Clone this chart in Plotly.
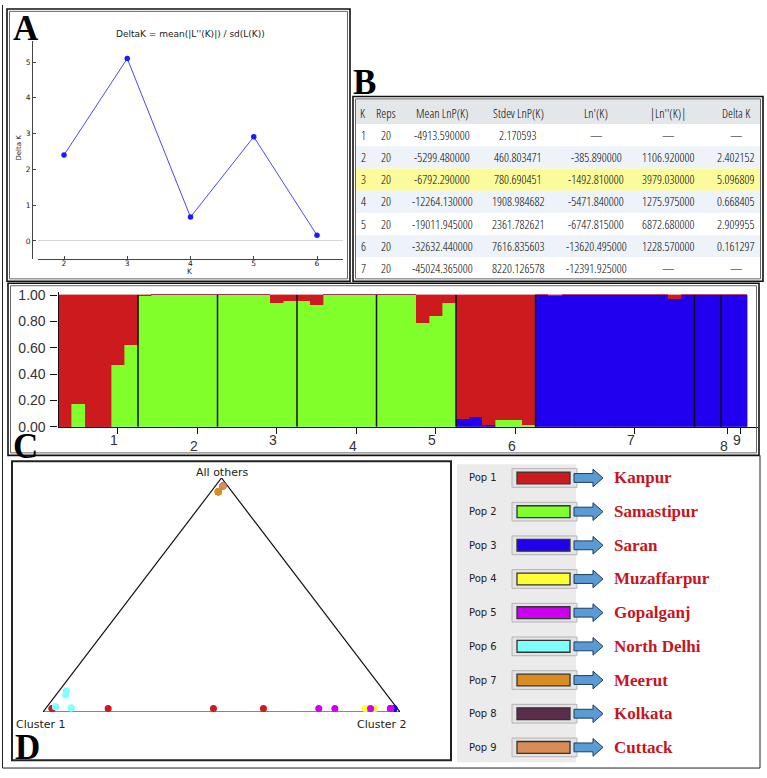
import plotly.graph_objects as go

W, H = 767, 778
def X(px): return px / W
def Y(py): return 1 - py / H

# ---------------- Panel A : Delta K ----------------
k_values = [2, 3, 4, 5, 6]
delta_k = [2.402152, 5.096809, 0.668405, 2.909955, 0.161297]

# ---------------- Panel B : Evanno table ----------------
tbl_headers = ["K", "Reps", "Mean LnP(K)", "Stdev LnP(K)", "Ln'(K)", "|Ln''(K)|", "Delta K"]
tbl_k = ["1", "2", "3", "4", "5", "6", "7"]
tbl_reps = ["20", "20", "20", "20", "20", "20", "20"]
tbl_mean = ["-4913.590000", "-5299.480000", "-6792.290000", "-12264.130000",
            "-19011.945000", "-32632.440000", "-45024.365000"]
tbl_stdev = ["2.170593", "460.803471", "780.690451", "1908.984682",
             "2361.782621", "7616.835603", "8220.126578"]
tbl_ln1 = ["—", "-385.890000", "-1492.810000", "-5471.840000",
           "-6747.815000", "-13620.495000", "-12391.925000"]
tbl_ln2 = ["—", "1106.920000", "3979.030000", "1275.975000",
           "6872.680000", "1228.570000", "—"]
tbl_dk = ["—", "2.402152", "5.096809", "0.668405", "2.909955", "0.161297", "—"]

# ---------------- Panel C : STRUCTURE bar plot (K = 3) ----------------
pop_labels_c = ["1", "2", "3", "4", "5", "6", "7", "8", "9"]
pop_sizes = [6, 6, 6, 6, 6, 6, 12, 2, 2]
pop_tick_pos = [4.45, 10.5, 16.45, 22.5, 28.45, 34.5, 43.5, 50.5, 51.5]
q_green = [0, 0.17, 0, 0, 0.47, 0.62,
           0.99, 1, 1, 1, 1, 1,
           1, 1, 1, 1, 0.94, 0.95,
           0.95, 0.92, 1, 1, 1, 1,
           1, 1, 1, 0.79, 0.84, 0.94,
           0, 0, 0, 0.05, 0.05, 0.01,
           0, 0, 0, 0, 0, 0, 0, 0, 0, 0, 0, 0,
           0, 0,
           0, 0]
q_blue = [0, 0, 0, 0, 0, 0,
          0, 0, 0, 0, 0, 0,
          0, 0, 0, 0, 0, 0,
          0, 0, 0, 0, 0, 0,
          0, 0, 0, 0, 0, 0,
          0.06, 0.075, 0.01, 0, 0, 0,
          1, 0.99, 1, 1, 1, 1, 1, 1, 1, 1, 0.97, 1,
          1, 1,
          1, 1]
q_red = [1, 0.83, 1, 1, 0.53, 0.38,
         0.01, 0, 0, 0, 0, 0,
         0, 0, 0, 0, 0.06, 0.05,
         0.05, 0.08, 0, 0, 0, 0,
         0, 0, 0, 0.21, 0.16, 0.06,
         0.94, 0.925, 0.99, 0.95, 0.95, 0.99,
         0, 0.01, 0, 0, 0, 0, 0, 0, 0, 0, 0.03, 0,
         0, 0,
         0, 0]

# ---------------- Panel D : triangle plot ----------------
tri_pop = [1] * 6 + [6] * 6 + [2] * 6 + [3] * 6 + [4] * 6 + [5] * 6 + [8] * 2 + [7] * 12 + [9] * 2
tri_cluster2 = ([0.018, 0.175, 0.018, 0.018, 0.47, 0.61] +
                [0.0205, 0.027, 0.024, 0.0705, 0.0705, 0.024] +
                [0.972] * 6 +
                [0.975] * 6 +
                [0.895, 0.922, 0.966, 0.966, 0.966, 0.966] +
                [0.966, 0.966, 0.966, 0.765, 0.81, 0.91] +
                [0.021, 0.021] +
                [0.0205] * 12 +
                [0.021, 0.021])
tri_others = ([0.015] * 6 +
              [0.09, 0.073, 0.022, 0.017, 0.017, 0.022] +
              [0.015] * 6 +
              [0.015] * 6 +
              [0.015] * 6 +
              [0.015] * 6 +
              [0.966, 0.966] +
              [0.941] * 12 +
              [0.966, 0.966])

# ---------------- Legend ----------------
pop_names = ["Kanpur", "Samastipur", "Saran", "Muzaffarpur", "Gopalganj",
             "North Delhi", "Meerut", "Kolkata", "Cuttack"]
pop_colors = ["#cc1a1e", "#80ff2a", "#2000ee", "#ffff33", "#cc00ee",
              "#80ffff", "#d98c20", "#5c2d4a", "#d98c55"]
cluster_colors = {"green": "#80ff2a", "blue": "#2000ee", "red": "#cc1a1e"}

fig = go.Figure()

fig.add_trace(go.Scatter(x=k_values, y=delta_k, mode="lines+markers",
                         line=dict(color="#4848ff", width=1),
                         marker=dict(color="#1a1aff", size=5.5),
                         xaxis="x", yaxis="y", showlegend=False, cliponaxis=False))

xs = [i + 0.5 for i in range(len(q_green))]
for vals, col in [(q_green, cluster_colors["green"]), (q_blue, cluster_colors["blue"]),
                  (q_red, cluster_colors["red"])]:
    fig.add_trace(go.Bar(x=xs, y=vals, width=1,
                         marker=dict(color=col, line=dict(color=col, width=0.4)),
                         xaxis="x2", yaxis="y2", showlegend=False))

fig.add_trace(go.Scatter(x=[0, 1, 0.5, 0], y=[0, 0, 1, 0], mode="lines",
                         line=dict(color="#111", width=1.2),
                         xaxis="x3", yaxis="y3", showlegend=False, cliponaxis=False))
order = []
for p in tri_pop:
    if p not in order:
        order.append(p)
for p in order:
    idx = [i for i, q in enumerate(tri_pop) if q == p]
    tx = [tri_cluster2[i] + tri_others[i] / 2 for i in idx]
    ty = [tri_others[i] for i in idx]
    fig.add_trace(go.Scatter(x=tx, y=ty, mode="markers",
                             marker=dict(color=pop_colors[p - 1], size=7),
                             xaxis="x3", yaxis="y3", showlegend=False, cliponaxis=False))

shapes = []
annotations = []

def line(x0, y0, x1, y1, color="#111", width=1):
    shapes.append(dict(type="line", xref="paper", yref="paper", x0=X(x0), y0=Y(y0),
                       x1=X(x1), y1=Y(y1), line=dict(color=color, width=width), layer="above"))

def rect(x0, y0, x1, y1, line_color=None, width=1, fill=None, layer="above"):
    shapes.append(dict(type="rect", xref="paper", yref="paper", x0=X(x0), y0=Y(y0),
                       x1=X(x1), y1=Y(y1),
                       line=dict(color=line_color or "rgba(0,0,0,0)", width=width if line_color else 0),
                       fillcolor=fill or "rgba(0,0,0,0)", layer=layer))

def text(x, y, s, size, color="#222", family="DejaVu Sans", xanchor="center",
         yanchor="middle", angle=0):
    annotations.append(dict(xref="paper", yref="paper", x=X(x), y=Y(y), text=s,
                            showarrow=False, font=dict(size=size, color=color, family=family),
                            xanchor=xanchor, yanchor=yanchor, textangle=angle))

def double_box(x0, y0, x1, y1):
    rect(x0, y0, x1, y1, "#111", 1.6)
    rect(x0 + 2.5, y0 + 2.5, x1 - 2.5, y1 - 2.5, "#666", 1)

# outer frame
line(2.5, 0, 2.5, 776, "#222", 1)
line(2.5, 776, 760, 776, "#222", 1)
line(760, 458, 760, 776, "#222", 1)

# panel boxes
double_box(7, 4, 350, 281)
double_box(353, 93, 763, 281)
double_box(8, 283, 759, 458)
rect(12, 464, 451, 768, "#222", 2)

serif = "Liberation Serif, Times New Roman, serif"
text(26, 24, "<b>A</b>", 35, "#000", serif)
text(364, 79, "<b>B</b>", 35, "#000", serif)
text(25.5, 449, "<b>C</b>", 35, "#000", serif)
text(27, 755, "<b>D</b>", 35, "#000", serif)

# panel A texts
text(190, 29, "DeltaK = mean(|L''(K)|) / sd(L(K))", 9, "#222")
text(190, 271, "K", 7.5, "#222")
text(19, 145, "Delta K", 7, "#222", angle=-90)

# panel B table
col_x = [363, 386, 442, 518, 596, 668, 736]
row0_y, row_h = 110.0, 22.6
hl = delta_k.index(max(delta_k)) + 2      # row of the K with the largest Delta K
tfont = "Open Sans Condensed Light, DejaVu Sans Condensed, sans-serif"
rect(356, 96, 760.5, row0_y + 11.3, fill="#e3e7ea", layer="below")
for r in range(1, 8):
    yc = row0_y + 22.4 + (r - 1) * row_h
    if r == hl:
        fill = "#fbfb9c"
    elif r % 2 == 0:
        fill = "#edf3f8"
    else:
        fill = "#ffffff"
    rect(356, yc - row_h / 2, 760.5, yc + row_h / 2, fill=fill, layer="below")
for c, h in enumerate(tbl_headers):
    text(col_x[c], row0_y, h, 12.5, "#000", tfont)
cols = [tbl_k, tbl_reps, tbl_mean, tbl_stdev, tbl_ln1, tbl_ln2, tbl_dk]
for c, colvals in enumerate(cols):
    for r, v in enumerate(colvals):
        yc = row0_y + 22.4 + r * row_h
        text(col_x[c], yc, v, 12.5, "#000", tfont)

# panel C separators and staggered population labels
bound = 0
for s in pop_sizes[:-1]:
    bound += s
    shapes.append(dict(type="line", xref="x2", yref="y2", x0=bound, x1=bound, y0=0, y1=1,
                       line=dict(color="#111", width=1.5), layer="above"))
for i, (lab, pos) in enumerate(zip(pop_labels_c, pop_tick_pos)):
    ly = 442 if i % 2 == 0 else 448.5
    annotations.append(dict(xref="x2", yref="paper", x=pos, y=Y(ly), text=lab, showarrow=False,
                            xshift=-3.5, font=dict(size=14, color="#333",
                                                   family="Liberation Sans, Arial, sans-serif"),
                            xanchor="center", yanchor="middle"))

# panel D labels
text(222, 475, "All others", 11, "#222")
text(41, 732, "Cluster 1", 11, "#222")
text(382, 732, "Cluster 2", 11, "#222")

# legend
rect(457, 467, 576, 770, fill="#ebebeb", layer="below")
for i, (nm, col) in enumerate(zip(pop_names, pop_colors)):
    yc = 481 + i * 34.25
    text(467, yc, "Pop " + str(i + 1), 10, "#222", xanchor="left")
    rect(512, yc - 9.5, 577, yc + 9.5, "#b4b4b4", 1, fill="#e4e4e4")
    rect(517, yc - 6, 570, yc + 6, "#333", 1.3, fill=col)
    pts = [(574, yc - 4.5), (593, yc - 4.5), (593, yc - 9), (603, yc), (593, yc + 9),
           (593, yc + 4.5), (574, yc + 4.5)]
    path = "M" + " L".join(f"{X(a):.5f},{Y(b):.5f}" for a, b in pts) + " Z"
    shapes.append(dict(type="path", xref="paper", yref="paper", path=path,
                       fillcolor="#5b9bd5", line=dict(color="#1d3c5e", width=1), layer="above"))
    text(612, yc, "<b>" + nm + "</b>", 17, "#c8141c", serif, xanchor="left")

axis_font_a = dict(family="DejaVu Sans", size=7.5, color="#222")
fig.update_layout(
    width=W, height=H, margin=dict(l=0, r=0, t=0, b=0),
    paper_bgcolor="white", plot_bgcolor="rgba(0,0,0,0)",
    barmode="stack", bargap=0, showlegend=False,
    xaxis=dict(domain=[X(38), X(343)], range=[1.589, 6.411], anchor="y",
               showline=True, linecolor="#444", linewidth=1, ticks="inside", ticklen=3,
               tickcolor="#444", tickvals=k_values, tickfont=axis_font_a, ticklabelstandoff=-3,
               showgrid=False, zeroline=False, fixedrange=True),
    yaxis=dict(domain=[Y(258), Y(37)], range=[-0.4945, 5.577], anchor="free", position=X(32),
               showline=True, linecolor="#444", linewidth=1, ticks="inside", ticklen=3,
               tickcolor="#444", tickvals=[0, 1, 2, 3, 4, 5], tickfont=axis_font_a,
               showgrid=False, zeroline=True, zerolinecolor="#d6d6d6", zerolinewidth=1,
               fixedrange=True),
    xaxis2=dict(domain=[X(58.5), X(758)], range=[0, 52.79], anchor="y2",
                showline=True, linecolor="#111", linewidth=1.2, ticks="outside", ticklen=6,
                tickcolor="#111", tickvals=pop_tick_pos, showticklabels=False,
                showgrid=False, zeroline=False, fixedrange=True),
    yaxis2=dict(domain=[Y(429), Y(292)], range=[0, 1.022], anchor="x2",
                showline=True, linecolor="#111", linewidth=1.2, ticks="outside", ticklen=7,
                tickcolor="#111", tickvals=[0, 0.2, 0.4, 0.6, 0.8, 1.0], tickformat=".2f",
                tickfont=dict(family="Liberation Sans, Arial, sans-serif", size=14, color="#333"),
                ticklabelstandoff=2, showgrid=False, zeroline=False, fixedrange=True),
    xaxis3=dict(domain=[X(43), X(400)], range=[0, 1], anchor="y3", visible=False, fixedrange=True),
    yaxis3=dict(domain=[Y(719), Y(481)], range=[0, 1], anchor="x3", visible=False, fixedrange=True),
    shapes=shapes, annotations=annotations,
)

fig.write_html("out.html", config={"displayModeBar": False},
               post_script="document.documentElement.style.margin='0px';"
                           "document.documentElement.style.overflow='hidden';"
                           "document.body.style.margin='0px';document.body.style.padding='0px';"
                           "document.body.style.overflow='hidden';")
